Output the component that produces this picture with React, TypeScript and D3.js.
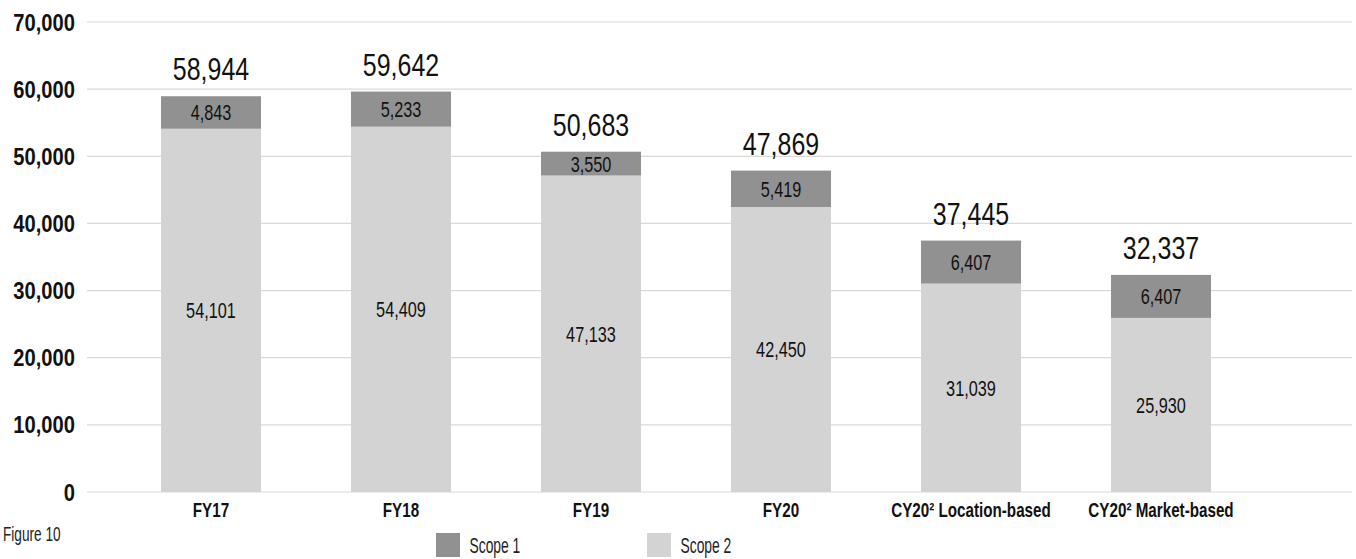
import React from "react";
import * as d3 from "d3";

const categories = ["FY17", "FY18", "FY19", "FY20", "CY20² Location-based", "CY20² Market-based"];
const scope1 = [4843, 5233, 3550, 5419, 6407, 6407];
const scope2 = [54101, 54409, 47133, 42450, 31039, 25930];
const totals = [58944, 59642, 50683, 47869, 37445, 32337];
const yTicks = [0, 10000, 20000, 30000, 40000, 50000, 60000, 70000];
const seriesNames = ["Scope 1", "Scope 2"];

const W = 1356;
const H = 559;
const FONT = "'Liberation Sans', Arial, sans-serif";
const C1 = "#919191";
const C2 = "#d3d3d3";
const GRID = "#d9d9d9";

type CTProps = {
  x: number;
  y: number;
  size: number;
  sx: number;
  anchor?: "start" | "middle" | "end";
  weight?: number;
  fill?: string;
  children: React.ReactNode;
};

function CText({ x, y, size, sx, anchor = "middle", weight = 400, fill = "#111", children }: CTProps) {
  return (
    <g transform={`translate(${x},${y}) scale(${sx},1)`}>
      <text textAnchor={anchor} fontSize={size} fontWeight={weight} fill={fill}>
        {children}
      </text>
    </g>
  );
}

export default function App() {
  React.useEffect(() => {
    document.body.style.margin = "0";
  }, []);
  const y = d3.scaleLinear().domain([0, 70000]).range([492, 22]);
  const x = d3
    .scaleBand<string>()
    .domain(categories)
    .range([116, 1256])
    .paddingInner(90 / 190)
    .paddingOuter(45 / 190);
  const fmt = d3.format(",");
  const bw = x.bandwidth();
  return (
    <svg width={W} height={H} style={{ display: "block", fontFamily: FONT }}>
      <rect width={W} height={H} fill="#fff" />
      {yTicks.map((t) => (
        <g key={t}>
          <line x1={87} x2={1352} y1={y(t)} y2={y(t)} stroke={GRID} strokeWidth={1.2} />
          <CText x={75} y={y(t) + 8.5} size={24} sx={0.84} anchor="end" weight={700}>
            {fmt(t)}
          </CText>
        </g>
      ))}
      {categories.map((c, i) => {
        const x0 = x(c)!;
        const cx = x0 + bw / 2;
        const y2top = y(scope2[i]);
        const y1top = y(scope2[i] + scope1[i]);
        return (
          <g key={c}>
            <rect x={x0} y={y2top} width={bw} height={y(0) - y2top} fill={C2} />
            <rect x={x0} y={y1top} width={bw} height={y2top - y1top} fill={C1} />
            <CText x={cx} y={(y(0) + y2top) / 2 + 8} size={22} sx={0.74}>
              {fmt(scope2[i])}
            </CText>
            <CText x={cx} y={(y2top + y1top) / 2 + 8} size={22} sx={0.74}>
              {fmt(scope1[i])}
            </CText>
            <CText x={cx} y={y1top - 16} size={32} sx={0.78}>
              {fmt(totals[i])}
            </CText>
            <CText x={cx} y={517} size={19.5} sx={0.78} weight={700}>
              {c}
            </CText>
          </g>
        );
      })}
      <CText x={3} y={541} size={19.5} sx={0.7} anchor="start" fill="#222">
        Figure 10
      </CText>
      {seriesNames.map((s, i) => (
        <g key={s} transform={`translate(${436 + i * 211},533)`}>
          <rect width={24} height={24} fill={i === 0 ? C1 : C2} />
          <CText x={33.5} y={20} size={22} sx={0.63} anchor="start" fill="#222">
            {s}
          </CText>
        </g>
      ))}
    </svg>
  );
}
